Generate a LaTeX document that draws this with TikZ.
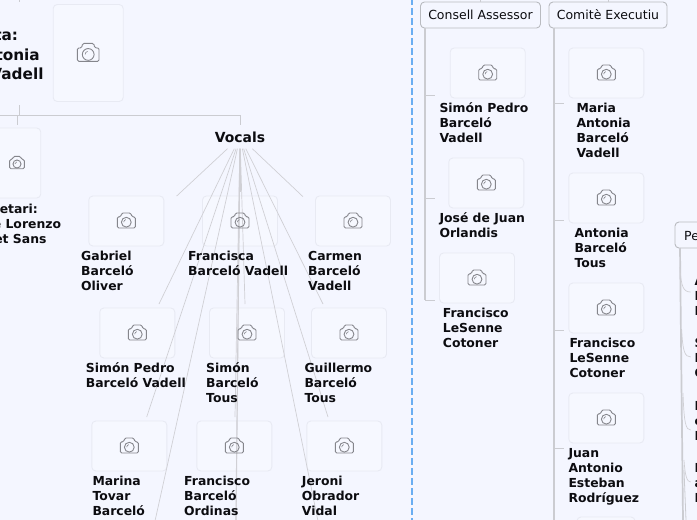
\documentclass[tikz,border=0pt]{standalone}
\usepackage{fontspec}
\setmainfont{DejaVu Sans}
\definecolor{bgc}{HTML}{F4F6FF}
\definecolor{cardfill}{HTML}{F6F8FF}
\definecolor{cardline}{HTML}{E8EAF3}
\definecolor{fanc}{HTML}{D0D0D5}
\definecolor{trunkc}{HTML}{CBCCD1}
\definecolor{camc}{HTML}{85868C}
\definecolor{headline}{HTML}{B9BBC0}
\definecolor{dashc}{HTML}{6AAEF2}
\definecolor{txt}{HTML}{0C0C10}
\tikzset{
 card/.style={draw=cardline,fill=cardfill,rounded corners=4pt,line width=.9pt,inner sep=0pt,minimum width=75pt,minimum height=50pt},
 lbl/.style={anchor=base west,inner sep=0pt,align=left,text=txt,font=\fontsize{12.4}{15}\bfseries\selectfont},
 lblr/.style={anchor=base east,inner sep=0pt,text=txt,font=\fontsize{12.4}{15}\bfseries\selectfont},
 bigr/.style={anchor=base east,inner sep=0pt,text=txt,font=\fontsize{15.3}{19}\bfseries\selectfont},
 head/.style={draw=headline,fill=bgc,rounded corners=4pt,line width=.9pt,inner sep=0pt,minimum height=26pt,text=txt,font=\fontsize{12.5}{15}\selectfont},
 fan/.style={draw=fanc,line width=.7pt},
 twig/.style={draw=trunkc,line width=.8pt},
 trunk/.style={draw=trunkc,line width=1.7pt},
 camera/.pic={\draw[camc,line width=.9pt,rounded corners=1.4pt,fill=none] (-9,7) -- (-9,-4.2) -- (-5.5,-4.2) -- (-4.6,-8) -- (4.6,-8) -- (5.5,-4.2) -- (9,-4.2) -- (9,7) -- cycle;
   \draw[camc,line width=.9pt] (0,1.2) circle (4.9);
   \draw[camc,line width=.6pt] (-2.6,1.2) arc (180:260:2.6);}
}
\begin{document}
\begin{tikzpicture}[x=1pt,y=-1pt]
\useasboundingbox (0,0) rectangle (697,520);
\fill[bgc] (0,0) rectangle (697,520);
\begin{scope}
\clip (0,0) rectangle (697,520);
% dashed separator
\coordinate (dashtop) at (412,0); \coordinate (dashbot) at (412,520);
\draw[dashc,line width=1.4pt,dash pattern=on 7pt off 3pt,dash phase=2pt] (dashtop) -- (dashbot);

% left tree
\coordinate (topa) at (19.5,0); \coordinate (topb) at (19.5,2);
\coordinate (pres) at (19.5,105); \coordinate (bar) at (19.5,115); \coordinate (barl) at (0,115);
\coordinate (barr) at (240,115); \coordinate (secup) at (17.5,115); \coordinate (secdn) at (17.5,125);
\draw[twig] (topa) -- (topb);
\draw[twig] (pres) -- (bar);
\draw[twig,line width=1pt] (barl) -- (barr);
\draw[twig] (secup) -- (secdn);

\node[inner sep=0pt,minimum width=60pt,minimum height=23pt,text=txt,font=\fontsize{13.9}{15}\bfseries\selectfont] (vocals) at (240,137) {Vocals};
\draw[twig] (barr) -- (vocals.north);

% fan ends
\foreach \n/\x/\y in {e1/176.7/196,e2/303/196.7,e3/159/304,e4/146.7/417,e5/155/521,e6/240/192,e7/245/304,e8/235/417,e9/236/521,e10/318/521,e11/328/417,e12/323/304}
  {\coordinate (\n) at (\x,\y);}
% cards
\node[card,minimum width=70pt,minimum height=97pt] (cpres) at (88.2,53) {};
\node[card,minimum width=47.5pt,minimum height=70pt] (csec) at (17,163) {};
\foreach \n/\x/\y in {cgab/126.3/221,cfra/240/221,ccar/353/221,csim/137.3/333,csib/247/333,cgui/349/333,cmar/129.3/446,cfro/234.3/446,cjer/344.3/446,
  cs1/487.7/73,cj1/486.3/183,cf1/477/278,cm2/606.3/73,ca2/606.3/198,cf2/606.3/308,cj2/606.3/418}
  {\node[card] (\n) at (\x,\y) {};}
\node[card,minimum width=58pt] (cx2) at (606,542) {};
\foreach \n in {e1,e2,e3,e4,e5,e6,e7,e8,e9,e10,e11,e12}{\draw[fan] (vocals) -- (\n);}
\draw[fan,line width=1.1pt] (vocals) -- (e9);

% cameras
\pic[scale=1.2] at (cpres) {camera};
\pic[scale=.82] at (csec) {camera};
\foreach \n in {cgab,cfra,ccar,csim,csib,cgui,cmar,cfro,cjer,cs1,cj1,cf1,cm2,ca2,cf2,cj2}{\pic at (\n) {camera};}

% headers and trunks
\node[head,minimum width=120pt] (hcons) at (480.5,15) {Consell Assessor};
\node[head,minimum width=118pt] (hcom) at (608,15) {Comitè Executiu};
\node[head,minimum width=60pt] (hper) at (705,235) {};
\node[anchor=base west,inner sep=0pt,text=txt,font=\fontsize{12.5}{15}\selectfont] (hpert) at (684,240) {Pe};
\coordinate (consup) at (480.5,0); \coordinate (comup) at (608,0);
\coordinate (t1) at (425,28); \coordinate (t1e) at (425,300); \coordinate (t1a) at (435,95.3); \coordinate (t1b) at (435,198.3); \coordinate (t1c) at (435,300);
\coordinate (t1j1) at (425,95.3); \coordinate (t1j2) at (425,198.3);
\coordinate (t2) at (554,28); \coordinate (t2e) at (554,520);
\foreach \yy/\n in {103.3/a,220.7/b,330.7/c,448/d}{\coordinate (tj\n) at (554,\yy); \coordinate (te\n) at (564,\yy);\draw[twig] (tj\n) -- (te\n);}
\draw[twig] (t1j1) -- (t1a); \draw[twig] (t1j2) -- (t1b);
\draw[trunk] (t1) -- (t1e);
\draw[twig] (t1e) -- (t1c);
\draw[trunk] (t2) -- (t2e);
\draw[twig] (hcons.north) -- (consup);
\draw[twig] (hcom.north) -- (comup);

% right trunk
\coordinate (r0) at (680,248); \coordinate (r1) at (683,520); \coordinate (r2) at (686,520); \coordinate (rm) at (684,470);
\draw[trunk] (r0) -- (r1);
\draw[twig] (rm) -- (r2);
\foreach \a/\b/\c/\d in {680/267/690.7/292,681.7/330/690.7/357,683/393/690.7/430,684/460/690.7/482}
  {\coordinate (ta) at (\a,\b); \coordinate (tb) at (\c,\d);
   \draw[draw=fanc,line width=.7pt] (ta) .. controls (\a+1,\d-6) and (\a+3,\d) .. (tb);}

% labels (base anchor = last baseline)
\node[bigr] (l1) at (18.3,40) {ta:};
\node[bigr] (l2) at (40,60) {tonia};
\node[bigr] (l3) at (43.7,79) {Vadell};
\node[lblr] (l4) at (38,213.2) {retari:};
\node[lblr] (l5) at (61.3,228.2) {e Lorenzo};
\node[lblr] (l6) at (46.7,243.2) {et Sans};
\node[lbl] at (81,290) {Gabriel\\Barceló\\Oliver};
\node[lbl] at (188,275) {Francisca\\Barceló Vadell};
\node[lbl] at (308,290) {Carmen\\Barceló\\Vadell};
\node[lbl] at (85.7,387) {Simón Pedro\\Barceló Vadell};
\node[lbl] at (206,402) {Simón\\Barceló\\Tous};
\node[lbl] at (304.3,402) {Guillermo\\Barceló\\Tous};
\node[lbl] at (92.3,515) {Marina\\Tovar\\Barceló};
\node[lbl] at (184,515) {Francisco\\Barceló\\Ordinas};
\node[lbl] at (301.7,515) {Jeroni\\Obrador\\Vidal};
\node[lbl] at (439.3,142.2) {Simón Pedro\\Barceló\\Vadell};
\node[lbl] at (439.3,237.2) {José de Juan\\Orlandis};
\node[lbl] at (442.7,347.2) {Francisco\\LeSenne\\Cotoner};
\node[lbl] at (576.3,157.2) {Maria\\Antonia\\Barceló\\Vadell};
\node[lbl] at (574.3,267.2) {Antonia\\Barceló\\Tous};
\node[lbl] at (569.3,377.2) {Francisco\\LeSenne\\Cotoner};
\node[lbl] at (568.3,502.2) {Juan\\Antonio\\Esteban\\Rodríguez};
\node[lbl] at (694.5,315) {A\\I\\I};
\node[lbl] at (694.5,377) {S\\I\\C};
\node[lbl] at (694.5,440) {I\\c\\I};
\node[lbl] at (694.5,502) {I\\a\\I};
\end{scope}
\end{tikzpicture}
\end{document}
